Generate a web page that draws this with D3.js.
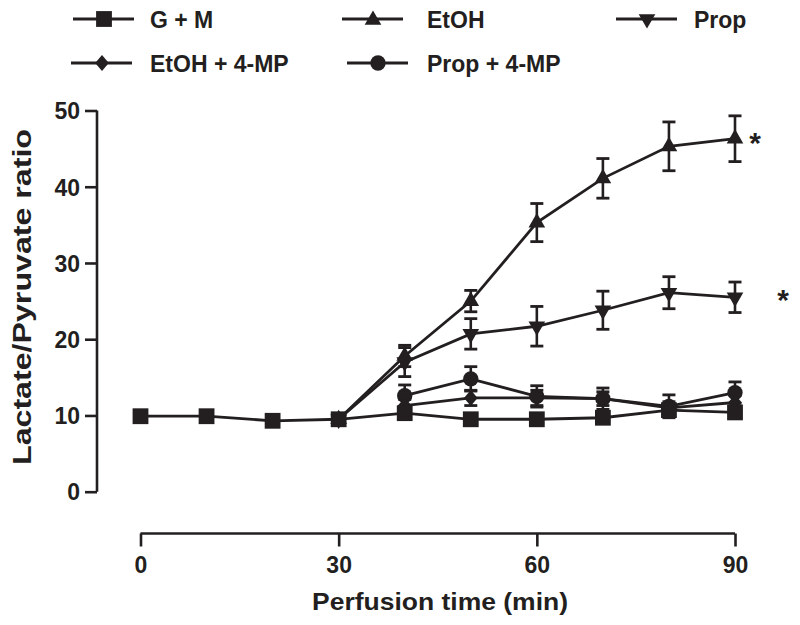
<!DOCTYPE html>
<html><head><meta charset="utf-8">
<script src="https://cdn.jsdelivr.net/npm/d3@7"></script>
<style>
html,body{margin:0;padding:0;background:#fff;}
text{font-family:"Liberation Sans",Arial,Helvetica,sans-serif;font-weight:bold;fill:#231f20;}
</style></head>
<body>
<svg id="c" width="800" height="625"></svg>
<script>
// ---- data ----
const xTicks = [0, 30, 60, 90];
const yTicks = [0, 10, 20, 30, 40, 50];

const gmTime = [0, 10, 20, 30, 40, 50, 60, 70, 80, 90];
const gmVal  = [9.9, 9.9, 9.3, 9.5, 10.3, 9.5, 9.5, 9.7, 10.7, 10.4];
const gmErr  = [0.3, 0.3, 0.3, 0.3, 0.4, 0.4, 0.4, 0.4, 0.4, 0.4];

const etohTime = [30, 40, 50, 60, 70, 80, 90];
const etohVal  = [9.5, 17.8, 25.0, 35.3, 41.1, 45.3, 46.3];
const etohErr  = [0, 1.4, 1.4, 2.5, 2.6, 3.2, 3.0];

const propTime = [30, 40, 50, 60, 70, 80, 90];
const propVal  = [9.5, 17.0, 20.7, 21.7, 23.8, 26.1, 25.5];
const propErr  = [0, 1.9, 2.0, 2.6, 2.5, 2.1, 2.0];

const etohMpTime = [40, 50, 60, 70, 80, 90];
const etohMpVal  = [11.3, 12.3, 12.3, 12.2, 11.0, 11.7];
const etohMpErr  = [0.8, 1.0, 1.0, 0.9, 0.8, 0.9];

const propMpTime = [40, 50, 60, 70, 80, 90];
const propMpVal  = [12.6, 14.8, 12.5, 12.2, 11.2, 13.0];
const propMpErr  = [1.4, 1.6, 1.4, 1.4, 1.5, 1.4];

const seriesNames = ["G + M", "EtOH", "Prop", "EtOH + 4-MP", "Prop + 4-MP"];
const markerTypes = ["square", "triUp", "triDown", "diamond", "circle"];

// ---- setup ----
const ink = "#231f20";
const svg = d3.select("#c");
const x = d3.scaleLinear().domain([0, 90]).range([140.5, 735]);
const y = d3.scaleLinear().domain([0, 50]).range([491.7, 110.5]);

function markerPath(type) {
  switch (type) {
    case "square": return d3.symbol().type(d3.symbolSquare).size(250)();
    case "triUp": return d3.symbol().type(d3.symbolTriangle).size(120)();
    case "triDown": return d3.symbol().type(d3.symbolTriangle).size(120)();
    case "circle": return d3.symbol().type(d3.symbolCircle).size(185)();
    case "diamond": { const r = 8; return `M0,${-r}L${r*0.85},0L0,${r}L${-r*0.85},0Z`; }
  }
}
function markerTransform(type, px, py) {
  return `translate(${px},${py})` + (type === "triDown" ? " rotate(180)" : "");
}

// ---- axes ----
const yAxis = svg.append("g").attr("transform", "translate(97,0)")
  .call(d3.axisLeft(y).tickValues(yTicks).tickSize(12).tickPadding(5).tickFormat(d3.format("d")));
const xAxis = svg.append("g").attr("transform", "translate(0,533.5)")
  .call(d3.axisBottom(x).tickValues(xTicks).tickSize(13).tickPadding(10).tickFormat(d3.format("d")));
[yAxis, xAxis].forEach(a => {
  a.select(".domain").attr("stroke", ink).attr("stroke-width", 2.6)
    .attr("d", a === yAxis ? `M0,${y(50)}V${y(0)}` : `M${x(0)},0H${x(90)}`);
  a.selectAll(".tick line").attr("stroke", ink).attr("stroke-width", 2.6);
  a.selectAll(".tick text").attr("fill", ink).style("font-size", "23px")
    .style("font-family", '"Liberation Sans",Arial,sans-serif').style("font-weight", "bold");
});
yAxis.selectAll(".tick text").attr("dy", "0.36em");

svg.append("text").attr("x", 440).attr("y", 610).attr("text-anchor", "middle")
  .style("font-size", "24px").attr("textLength", 256).attr("lengthAdjust", "spacingAndGlyphs")
  .text("Perfusion time (min)");
svg.append("text").attr("transform", "translate(31,297) rotate(-90)").attr("text-anchor", "middle")
  .style("font-size", "25px").attr("textLength", 336).attr("lengthAdjust", "spacingAndGlyphs")
  .text("Lactate/Pyruvate ratio");

// ---- series ----
const series = [
  {t: gmTime, v: gmVal, e: gmErr},
  {t: etohTime, v: etohVal, e: etohErr},
  {t: propTime, v: propVal, e: propErr},
  {t: etohMpTime, v: etohMpVal, e: etohMpErr},
  {t: propMpTime, v: propMpVal, e: propMpErr}
].map((s, i) => ({name: seriesNames[i], marker: markerTypes[i],
  pts: s.t.map((t, j) => ({t, v: s.v[j], e: s.e[j]}))}));

const line = d3.line().x(d => x(d.t)).y(d => y(d.v));
const drawOrder = [1, 2, 4, 3, 0];
const plot = svg.append("g");

drawOrder.forEach(i => {
  const s = series[i];
  plot.append("path").datum(s.pts).attr("d", line)
    .attr("fill", "none").attr("stroke", ink).attr("stroke-width", 2.8);
});
drawOrder.forEach(i => {
  const s = series[i];
  const g = plot.append("g");
  const eb = g.selectAll("g.eb").data(s.pts.filter(d => d.e > 0)).join("g");
  eb.append("line").attr("x1", d => x(d.t)).attr("x2", d => x(d.t))
    .attr("y1", d => y(d.v + d.e)).attr("y2", d => y(d.v - d.e))
    .attr("stroke", ink).attr("stroke-width", 2.6);
  [1, -1].forEach(sg => {
    eb.append("line").attr("x1", d => x(d.t) - 6.5).attr("x2", d => x(d.t) + 6.5)
      .attr("y1", d => y(d.v + sg * d.e)).attr("y2", d => y(d.v + sg * d.e))
      .attr("stroke", ink).attr("stroke-width", 2.8);
  });
  g.selectAll("path.m").data(s.pts).join("path")
    .attr("d", markerPath(s.marker))
    .attr("transform", d => markerTransform(s.marker, x(d.t), y(d.v)))
    .attr("fill", ink);
});

// significance asterisks
svg.append("text").attr("x", 755).attr("y", 153).attr("text-anchor", "middle").style("font-size", "30px").text("*");
svg.append("text").attr("x", 783).attr("y", 310).attr("text-anchor", "middle").style("font-size", "30px").text("*");

// ---- legend ----
const legendPos = [
  {lx: 73, ly: 19, tx: 150}, {lx: 342, ly: 19, tx: 427}, {lx: 616, ly: 19, tx: 694},
  {lx: 71, ly: 63, tx: 150}, {lx: 347, ly: 63, tx: 427}
];
series.forEach((s, i) => {
  const p = legendPos[i];
  const g = svg.append("g").attr("transform", `translate(${p.lx},${p.ly})`);
  g.append("line").attr("x1", 0).attr("x2", 61).attr("y1", 0).attr("y2", 0)
    .attr("stroke", ink).attr("stroke-width", 3);
  g.append("path").attr("d", markerPath(s.marker))
    .attr("transform", markerTransform(s.marker, 31, s.marker === "triUp" ? 1 : 0)).attr("fill", ink);
  svg.append("text").attr("x", p.tx).attr("y", p.ly + 8.5)
    .style("font-size", "23px").text(s.name);
});
</script>
</body></html>
